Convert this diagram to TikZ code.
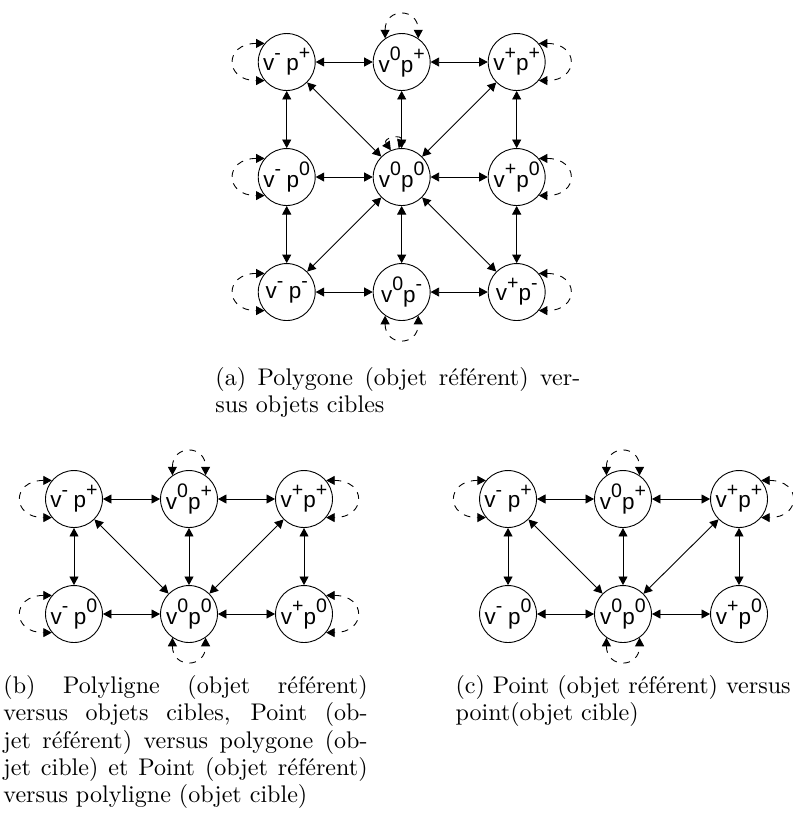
\documentclass[tikz,border=0pt]{standalone}
\usepackage{fontspec}
\usetikzlibrary{arrows.meta}

\newfontfamily\etatfont{Liberation Sans}
\newcommand{\expo}[1]{\raisebox{0.5em}{\fontsize{8.7}{9}\selectfont #1}}

\tikzset{
  etat/.style={circle, draw, minimum size=0.89cm, inner sep=0pt,
    font=\etatfont\fontsize{10}{10}\selectfont},
  trans/.style={{Triangle[length=3.8pt,width=4pt]}-{Triangle[length=3.8pt,width=4pt]}},
  boucle/.style={trans, dashed},
  legende/.style={anchor=north west, inner sep=0pt, text width=#1,
    font=\fontsize{10.7}{12.1}\selectfont},
}

\begin{document}
\begin{tikzpicture}
        \useasboundingbox (0,0) rectangle (12.375,-12.953);

        % Sous-figure (a) : polygone
        \node[etat] (amp) at (4.48,-0.969) {v\expo{-}\hspace{0.25em}p\expo{+}};
        \node[etat] (azp) at (6.276,-0.969) {v\expo{0}p\expo{+}};
        \node[etat] (app) at (8.073,-0.969) {v\expo{+}p\expo{+}};
        \node[etat] (amz) at (4.48,-2.766) {v\expo{-}\hspace{0.25em}p\expo{0}};
        \node[etat] (azz) at (6.276,-2.766) {v\expo{0}p\expo{0}};
        \node[etat] (apz) at (8.073,-2.766) {v\expo{+}p\expo{0}};
        \node[etat] (amm) at (4.48,-4.563) {v\expo{-}\hspace{0.25em}p\expo{-}};
        \node[etat] (azm) at (6.276,-4.563) {v\expo{0}p\expo{-}};
        \node[etat] (apm) at (8.073,-4.563) {v\expo{+}p\expo{-}};

        \draw[trans] (amp) -- (azp);
        \draw[trans] (azp) -- (app);
        \draw[trans] (amz) -- (azz);
        \draw[trans] (azz) -- (apz);
        \draw[trans] (amm) -- (azm);
        \draw[trans] (azm) -- (apm);
        \draw[trans] (amp) -- (amz);
        \draw[trans] (amz) -- (amm);
        \draw[trans] (azp) -- (azz);
        \draw[trans] (azz) -- (azm);
        \draw[trans] (app) -- (apz);
        \draw[trans] (apz) -- (apm);
        \draw[trans] (amp) -- (azz);
        \draw[trans] (app) -- (azz);
        \draw[trans] (amm) -- (azz);
        \draw[trans] (apm) -- (azz);

        % boucles
        \draw[boucle] (amp.140) to[out=180,in=180,looseness=2.8] (amp.220);
        \draw[boucle] (amz.140) to[out=180,in=180,looseness=2.8] (amz.220);
        \draw[boucle] (amm.140) to[out=180,in=180,looseness=2.8] (amm.220);
        \draw[boucle] (app.40) to[out=0,in=0,looseness=2.8] (app.-40);
        \draw[boucle] (apz.40) to[out=0,in=0,looseness=2.8] (apz.-40);
        \draw[boucle] (apm.40) to[out=0,in=0,looseness=2.8] (apm.-40);
        \draw[boucle] (azp.125) to[out=90,in=90,looseness=2.4] (azp.55);
        \draw[boucle] (azm.235) to[out=270,in=270,looseness=2.4] (azm.305);
        \draw[boucle] (azz.112) to[out=125,in=70,looseness=5] (azz.96);

        \node[legende=5.7cm, align=justify] (lega) at (3.36,-5.73)
          {(a) Polygone (objet référent) ver-\linebreak sus objets cibles};

        % Sous-figure (b) : polyligne
        \node[etat] (bmp) at (1.156,-7.797) {v\expo{-}\hspace{0.25em}p\expo{+}};
        \node[etat] (bzp) at (2.953,-7.797) {v\expo{0}p\expo{+}};
        \node[etat] (bpp) at (4.75,-7.797) {v\expo{+}p\expo{+}};
        \node[etat] (bmz) at (1.156,-9.594) {v\expo{-}\hspace{0.25em}p\expo{0}};
        \node[etat] (bzz) at (2.953,-9.594) {v\expo{0}p\expo{0}};
        \node[etat] (bpz) at (4.75,-9.594) {v\expo{+}p\expo{0}};

        \draw[trans] (bmp) -- (bzp);
        \draw[trans] (bzp) -- (bpp);
        \draw[trans] (bmz) -- (bzz);
        \draw[trans] (bzz) -- (bpz);
        \draw[trans] (bmp) -- (bmz);
        \draw[trans] (bzp) -- (bzz);
        \draw[trans] (bpp) -- (bpz);
        \draw[trans] (bmp) -- (bzz);
        \draw[trans] (bpp) -- (bzz);

        \draw[boucle] (bmp.140) to[out=180,in=180,looseness=2.8] (bmp.220);
        \draw[boucle] (bmz.140) to[out=180,in=180,looseness=2.8] (bmz.220);
        \draw[boucle] (bpp.40) to[out=0,in=0,looseness=2.8] (bpp.-40);
        \draw[boucle] (bpz.40) to[out=0,in=0,looseness=2.8] (bpz.-40);
        \draw[boucle] (bzp.125) to[out=90,in=90,looseness=2.4] (bzp.55);
        \draw[boucle] (bzz.235) to[out=270,in=270,looseness=2.4] (bzz.305);

        \node[legende=5.69cm, align=justify] (legb) at (0.047,-10.55)
          {(b) Polyligne (objet référent)\linebreak versus objets cibles, Point (ob-\linebreak jet référent) versus polygone (ob-\linebreak jet cible) et Point (objet référent)\linebreak versus polyligne (objet cible)};

        % Sous-figure (c) : point
        \node[etat] (cmp) at (7.938,-7.797) {v\expo{-}\hspace{0.25em}p\expo{+}};
        \node[etat] (czp) at (9.734,-7.797) {v\expo{0}p\expo{+}};
        \node[etat] (cpp) at (11.547,-7.797) {v\expo{+}p\expo{+}};
        \node[etat] (cmz) at (7.938,-9.594) {v\expo{-}\hspace{0.25em}p\expo{0}};
        \node[etat] (czz) at (9.734,-9.594) {v\expo{0}p\expo{0}};
        \node[etat] (cpz) at (11.547,-9.594) {v\expo{+}p\expo{0}};

        \draw[trans] (cmp) -- (czp);
        \draw[trans] (czp) -- (cpp);
        \draw[trans] (cmz) -- (czz);
        \draw[trans] (czz) -- (cpz);
        \draw[trans] (cmp) -- (cmz);
        \draw[trans] (czp) -- (czz);
        \draw[trans] (cpp) -- (cpz);
        \draw[trans] (cmp) -- (czz);
        \draw[trans] (cpp) -- (czz);

        \draw[boucle] (cmp.140) to[out=180,in=180,looseness=2.8] (cmp.220);
        \draw[boucle] (cpp.40) to[out=0,in=0,looseness=2.8] (cpp.-40);
        \draw[boucle] (czp.125) to[out=90,in=90,looseness=2.4] (czp.55);
        \draw[boucle] (czz.235) to[out=270,in=270,looseness=2.4] (czz.305);

        \node[legende=6.5cm, align=left] (legc) at (7.11,-10.55)
          {(c) Point (objet référent) versus\\ point(objet cible)};

\end{tikzpicture}
\end{document}
